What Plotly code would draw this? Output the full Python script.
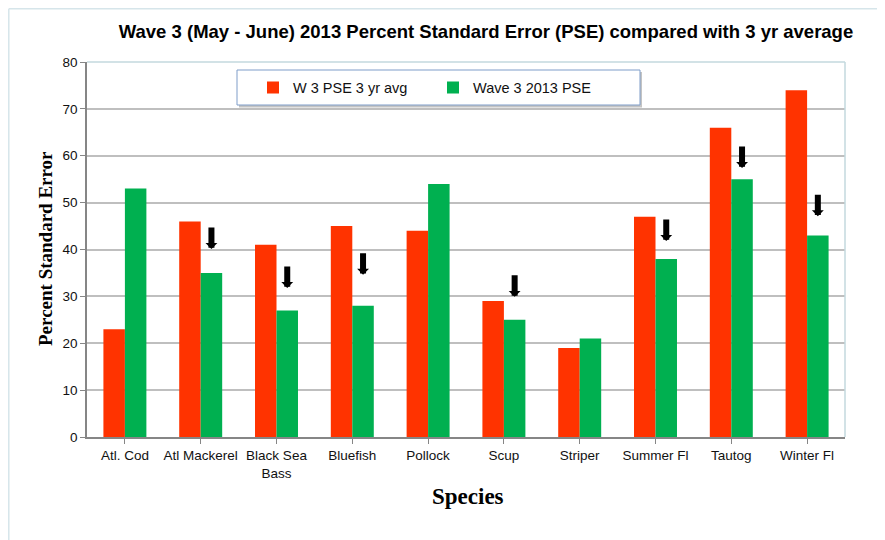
import plotly.graph_objects as go

species = ["Atl. Cod", "Atl Mackerel", "Black Sea<br>Bass", "Bluefish", "Pollock",
           "Scup", "Striper", "Summer Fl", "Tautog", "Winter Fl"]
avg_3yr = [23, 46, 41, 45, 44, 29, 19, 47, 66, 74]
pse_2013 = [53, 35, 27, 28, 54, 25, 21, 38, 55, 43]
# arrow tips (percent) marking species whose 2013 PSE fell below the 3-yr average
arrow_idx = [1, 2, 3, 5, 7, 8, 9]
arrow_tip = [40.1, 31.8, 34.6, 29.9, 41.8, 57.4, 47.1]

RED = "#FF3300"
GREEN = "#00B050"

fig = go.Figure()
fig.add_trace(go.Bar(x=list(range(len(species))), y=avg_3yr, name="W 3 PSE 3 yr avg",
                     marker=dict(color=RED, line=dict(width=0))))
fig.add_trace(go.Bar(x=list(range(len(species))), y=pse_2013, name="Wave 3 2013 PSE",
                     marker=dict(color=GREEN, line=dict(width=0))))

BARGAP = 0.433
offset = (1 - BARGAP) / 4
for i, tip in zip(arrow_idx, arrow_tip):
    fig.add_annotation(x=i + offset, y=tip, xref="x", yref="y", ax=0, ay=-22,
                       showarrow=True, arrowhead=1, arrowsize=0.33, arrowwidth=6,
                       arrowcolor="black", text="", font=dict(size=1), borderpad=0,
                       standoff=0)

# page is drawn with an 8px body offset; absolute screen coordinates below
OFF = 8
W, H = 885, 540
PX0, PX1, PY0, PY1 = 87, 845, 62, 437  # plot area in screen pixels
L, R = PX0 - OFF, W - (PX1 - OFF)
T, B = PY0 - OFF, H - (PY1 - OFF)
pw, ph = PX1 - PX0, PY1 - PY0

def px(x):
    return (x - PX0) / pw

def py(y):
    return (PY1 - y) / ph

shapes = [
    # outer chart frame
    dict(type="line", xref="paper", yref="paper", x0=px(8.8), x1=px(893), y0=py(8.8), y1=py(8.8),
         line=dict(color="#D6E5EA", width=1.5)),
    dict(type="line", xref="paper", yref="paper", x0=px(8.8), x1=px(8.8), y0=py(8.8), y1=py(560),
         line=dict(color="#D6E5EA", width=1.5)),
    # plot area top/right border
    dict(type="line", xref="paper", yref="paper", x0=0, x1=1, y0=1, y1=1,
         line=dict(color="#C3D8DE", width=1.5)),
    dict(type="line", xref="paper", yref="paper", x0=1, x1=1, y0=0, y1=1,
         line=dict(color="#C3D8DE", width=1.5)),
    # legend shadow and box
    dict(type="rect", xref="paper", yref="paper", x0=px(239), x1=px(642), y0=py(107.5), y1=py(72),
         fillcolor="#C4C4C4", line=dict(width=0), layer="above"),
    dict(type="rect", xref="paper", yref="paper", x0=px(237), x1=px(640), y0=py(105), y1=py(70),
         fillcolor="white", line=dict(color="#7F9DC9", width=1), layer="above"),
]

fig.update_layout(
    width=W, height=H,
    margin=dict(l=L, r=R, t=T, b=B, autoexpand=False),
    paper_bgcolor="white", plot_bgcolor="white",
    barmode="group", bargap=BARGAP, bargroupgap=0,
    font=dict(family="Liberation Sans, Arial, sans-serif", size=13, color="#111111"),
    title=dict(text="<b>Wave 3 (May - June) 2013 Percent Standard Error (PSE) compared with 3 yr average</b>",
               x=(486 - OFF) / W, xanchor="center", y=1 - (32 - OFF) / H, yanchor="middle",
               xref="container", yref="container",
               font=dict(family="Liberation Sans, Arial, sans-serif", size=18.5, color="black")),
    showlegend=True,
    legend=dict(orientation="h", x=px(253), xanchor="left", y=py(87.5), yanchor="middle",
                bgcolor="rgba(0,0,0,0)", borderwidth=0, itemwidth=30, entrywidth=135,
                font=dict(family="Liberation Sans, Arial, sans-serif", size=14.5, color="#111111")),
    shapes=shapes,
    xaxis=dict(tickmode="array", tickvals=list(range(len(species))), ticktext=species,
               range=[-0.5, len(species) - 0.5], showgrid=False, showline=True,
               linecolor="#868686", linewidth=1.5, ticks="outside", ticklen=5,
               tickcolor="#868686", tickson="boundaries", tickangle=0,
               tickfont=dict(size=13.5, color="#111111"), zeroline=False),
    yaxis=dict(range=[0, 80], dtick=10, showgrid=True, gridcolor="#BFBFBF", gridwidth=1.5,
               showline=True, linecolor="#868686", linewidth=1.5, ticks="outside", ticklen=5,
               tickcolor="#868686", tickfont=dict(size=13.5, color="#111111"), zeroline=False),
)

fig.add_annotation(text="<b>Percent Standard Error</b>", xref="paper", yref="paper",
                   x=px(45), y=py(249), showarrow=False, textangle=-90,
                   xanchor="center", yanchor="middle",
                   font=dict(family="Liberation Serif, Times New Roman, serif", size=19, color="black"))
fig.add_annotation(text="<b>Species</b>", xref="paper", yref="paper",
                   x=px(468), y=py(497), showarrow=False, xanchor="center", yanchor="middle",
                   font=dict(family="Liberation Serif, Times New Roman, serif", size=23, color="black"))

fig.write_html("out.html")
